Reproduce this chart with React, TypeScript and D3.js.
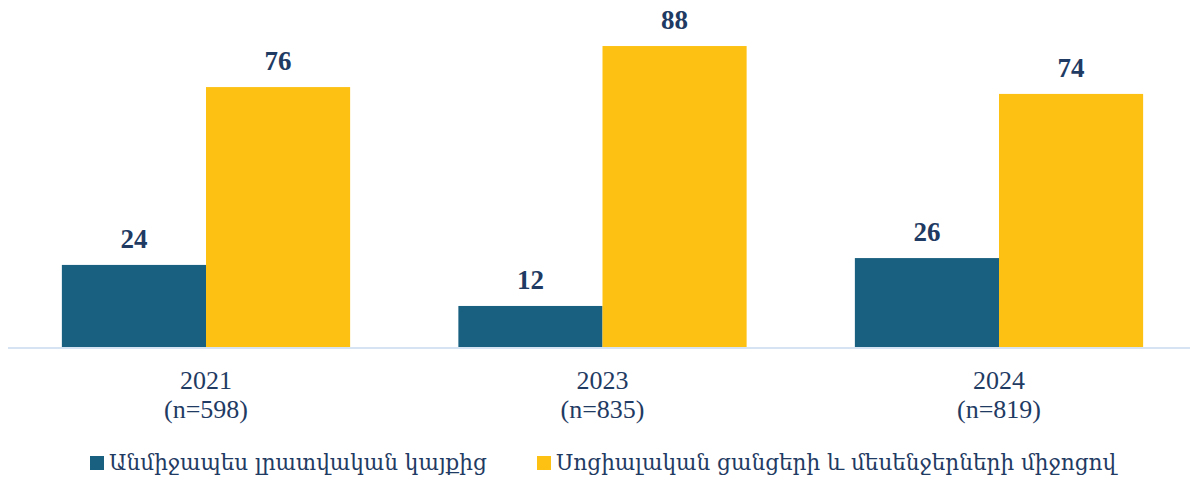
import React, { useEffect, useRef } from 'react';
import * as d3 from 'd3';

const years = ['2021', '2023', '2024'];
const sampleSizes = ['(n=598)', '(n=835)', '(n=819)'];
const seriesNames = [
    'Անմիջապես լրատվական կայքից',
    'Սոցիալական ցանցերի և մեսենջերների միջոցով',
];
const directValues = [24, 12, 26];
const socialValues = [76, 88, 74];

const colors = ['#185f80', '#fdc113'];
const textColor = '#1f3b63';

const W = 1190;
const H = 483;

const App = () => {
    const ref = useRef<SVGSVGElement>(null);

    useEffect(() => {
        document.body.style.margin = '0';
        const svg = d3.select(ref.current);
        svg.selectAll('*').remove();

        const baseline = 347;
        // outer groups
        const x0 = d3.scaleBand<string>()
            .domain(years)
            .range([7.75, 1197.25])
            .paddingInner(0.273)
            .paddingOuter(0.1365);
        // bars inside a group
        const x1 = d3.scaleBand<number>()
            .domain([0, 1])
            .range([0, x0.bandwidth()]);
        const y = d3.scaleLinear()
            .domain([0, 100])
            .range([baseline, baseline - 342]);

        const rows = years.map((yr, i) => ({
            year: yr,
            vals: [directValues[i], socialValues[i]],
        }));

        const g = svg.selectAll('g.grp')
            .data(rows)
            .enter()
            .append('g')
            .attr('class', 'grp')
            .attr('transform', (d) => `translate(${x0(d.year)},0)`);

        g.selectAll('rect')
            .data((d) => d.vals)
            .enter()
            .append('rect')
            .attr('x', (_d, i) => x1(i) as number)
            .attr('y', (d) => y(d))
            .attr('width', x1.bandwidth())
            .attr('height', (d) => baseline - y(d))
            .attr('fill', (_d, i) => colors[i]);

        // value labels
        g.selectAll('text.val')
            .data((d) => d.vals)
            .enter()
            .append('text')
            .attr('class', 'val')
            .attr('x', (_d, i) => (x1(i) as number) + x1.bandwidth() / 2)
            .attr('y', (d) => y(d) - 17)
            .attr('text-anchor', 'middle')
            .attr('font-family', '"Liberation Serif", "Times New Roman", serif')
            .attr('font-weight', 'bold')
            .attr('font-size', 27)
            .attr('fill', textColor)
            .text((d) => d);

        // axis line
        svg.append('line')
            .attr('x1', 8)
            .attr('x2', W)
            .attr('y1', baseline + 1)
            .attr('y2', baseline + 1)
            .attr('stroke', '#d5e3f3')
            .attr('stroke-width', 2);

        // category labels
        const cat = svg.selectAll('text.cat')
            .data(years)
            .enter()
            .append('text')
            .attr('class', 'cat')
            .attr('text-anchor', 'middle')
            .attr('font-family', '"Liberation Serif", "Times New Roman", serif')
            .attr('font-size', 26)
            .attr('fill', textColor);
        cat.append('tspan')
            .attr('x', (d) => (x0(d) as number) + x0.bandwidth() / 2)
            .attr('y', 389)
            .text((d) => d);
        cat.append('tspan')
            .attr('x', (d) => (x0(d) as number) + x0.bandwidth() / 2)
            .attr('y', 418)
            .text((_d, i) => sampleSizes[i]);

        // legend
        const legendX = [90, 537];
        const lg = svg.selectAll('g.leg')
            .data(seriesNames)
            .enter()
            .append('g')
            .attr('class', 'leg')
            .attr('transform', (_d, i) => `translate(${legendX[i]},456)`);
        lg.append('rect')
            .attr('width', 14)
            .attr('height', 14)
            .attr('fill', (_d, i) => colors[i]);
        lg.append('text')
            .attr('x', 19)
            .attr('y', 14)
            .attr('font-family', '"DejaVu Serif", "Noto Sans", serif')
            .attr('font-size', 21.6)
            .attr('fill', textColor)
            .text((d) => d);
    }, []);

    return (
        <div>
            <svg ref={ref} width={W} height={H} style={{ display: 'block' }} />
        </div>
    );
};

export default App;
